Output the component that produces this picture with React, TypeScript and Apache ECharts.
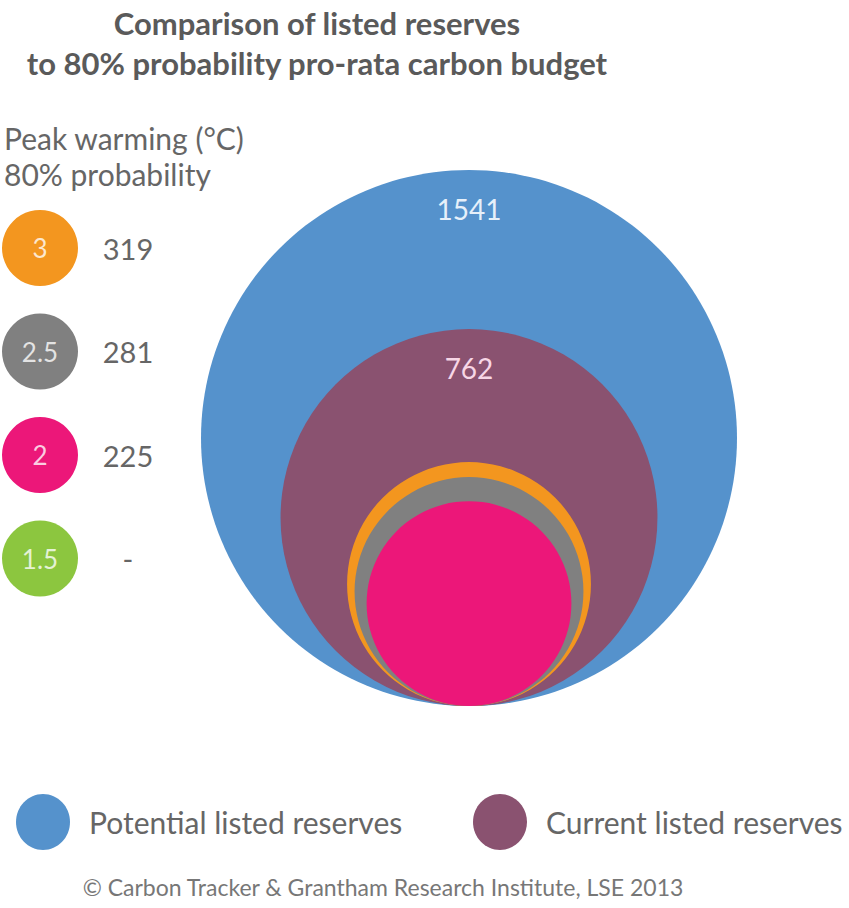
import React, { useEffect, useRef } from "react";
import * as echarts from "echarts";

// ---- data ----
const titleLines = ["Comparison of listed reserves", "to 80% probability pro-rata carbon budget"];
const reserveNames = ["Potential listed reserves", "Current listed reserves"];
const reserveValues = [1541, 762];
const warmingLabels = ["3", "2.5", "2", "1.5"];
const budgetValues: (number | null)[] = [319, 281, 225, null];
const legendHeader = ["Peak warming (°C)", "80% probability"];
const sourceText = "© Carbon Tracker & Grantham Research Institute, LSE 2013";

// ---- styles ----
const reserveColors = ["#5592cc", "#8a5270"];
const warmingColors = ["#f3961f", "#808080", "#ec1779", "#8cc63f"];
const reserveLabelColors = ["#e6f0fa", "#f7d6e6"];
const FONT = "Lato, 'Open Sans', sans-serif";

export default function App() {
  const ref = useRef<HTMLDivElement>(null);
  useEffect(() => {
    document.body.style.margin = "0";
    if (!ref.current) return;
    const chart = echarts.init(ref.current, undefined, { renderer: "svg" });

    // geometry of the nested-circle plot
    const R = 268; // pixel radius of largest circle
    const cx = 469;
    const baseY = 706;
    const pxPerUnit = R / Math.sqrt(reserveValues[0]);
    const xHalf = 40;
    const yMax = 80;
    const gridW = xHalf * 2 * pxPerUnit;
    const gridH = yMax * pxPerUnit;

    const circleData: any[] = [];
    reserveValues.forEach((v, i) =>
      circleData.push({ value: [v], name: reserveNames[i], itemStyle: { color: reserveColors[i] }, showLabel: true, labelColor: reserveLabelColors[i] })
    );
    budgetValues.forEach((v, i) => {
      if (v != null) circleData.push({ value: [v], name: warmingLabels[i], itemStyle: { color: warmingColors[i] }, showLabel: false });
    });

    const graphics: any[] = [];
    titleLines.forEach((t, i) =>
      graphics.push({
        type: "text",
        style: { text: t, x: 317, y: 23 + i * 40, fill: "#5a5a5a", font: `bold 31px ${FONT}`, align: "center", verticalAlign: "middle" },
      })
    );
    legendHeader.forEach((t, i) =>
      graphics.push({
        type: "text",
        style: { text: t, x: 4, y: 138 + i * 36, fill: "#666", font: `30px ${FONT}`, align: "left", verticalAlign: "middle" },
      })
    );
    warmingLabels.forEach((t, i) => {
      const y = 248 + i * 103.5;
      graphics.push({ type: "circle", shape: { cx: 40, cy: y, r: 38 }, style: { fill: warmingColors[i] } });
      graphics.push({
        type: "text",
        style: { text: t, x: 40, y, fill: "rgba(255,255,255,0.78)", font: `26px ${FONT}`, align: "center", verticalAlign: "middle" },
      });
      const bv = budgetValues[i];
      graphics.push({
        type: "text",
        style: { text: bv == null ? "-" : String(bv), x: 128, y, fill: "#666", font: `29px ${FONT}`, align: "center", verticalAlign: "middle" },
      });
    });
    const legendX = [43, 500];
    reserveNames.forEach((n, i) => {
      graphics.push({ type: "ellipse", shape: { cx: legendX[i], cy: 822, rx: 27, ry: 28 }, style: { fill: reserveColors[i] } });
      graphics.push({
        type: "text",
        style: { text: n, x: legendX[i] + 46, y: 822, fill: "#666", font: `30px ${FONT}`, align: "left", verticalAlign: "middle" },
      });
    });
    graphics.push({
      type: "text",
      style: { text: sourceText, x: 383, y: 887, fill: "#777", font: `23px ${FONT}`, align: "center", verticalAlign: "middle" },
    });

    chart.setOption({
      animation: false,
      backgroundColor: "#ffffff",
      grid: { left: cx - gridW / 2, top: baseY - gridH, width: gridW, height: gridH },
      xAxis: { type: "value", min: -xHalf, max: xHalf, show: false },
      yAxis: { type: "value", min: 0, max: yMax, show: false },
      graphic: graphics,
      series: [
        {
          type: "custom",
          clip: false,
          data: circleData,
          renderItem: (params: any, api: any) => {
            const v = api.value(0);
            const r = Math.sqrt(v);
            const c = api.coord([0, r]);
            const rp = api.size([r, 0])[0];
            const d = circleData[params.dataIndex];
            const children: any[] = [
              { type: "circle", shape: { cx: c[0], cy: c[1], r: rp }, style: { fill: d.itemStyle.color } },
            ];
            if (d.showLabel) {
              children.push({
                type: "text",
                style: {
                  text: String(v),
                  x: c[0],
                  y: c[1] - rp + 39,
                  fill: d.labelColor,
                  font: `28px ${FONT}`,
                  align: "center",
                  verticalAlign: "middle",
                },
              });
            }
            return { type: "group", children };
          },
        },
      ],
    });
    return () => chart.dispose();
  }, []);
  return <div ref={ref} style={{ width: 849, height: 908 }} />;
}
